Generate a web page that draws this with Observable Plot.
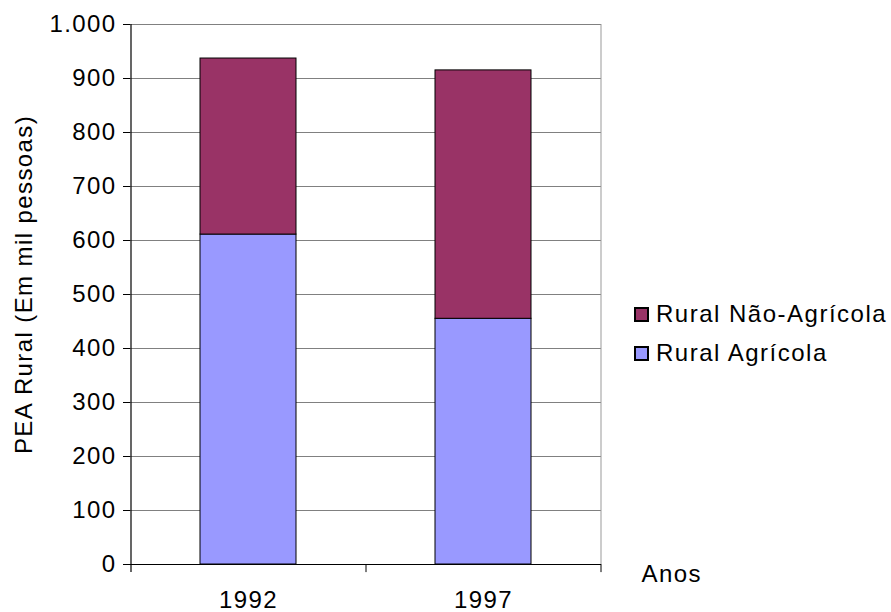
<!DOCTYPE html>
<html>
<head>
<meta charset="utf-8">
<script src="https://cdn.jsdelivr.net/npm/d3@7"></script>
<script src="https://cdn.jsdelivr.net/npm/@observablehq/plot@0.6"></script>
<style>
  html, body { margin: 0; padding: 0; background: #fff; }
  #wrap { position: relative; width: 891px; height: 612px; font-family: "Liberation Sans", Arial, sans-serif; }
  .lg { position: absolute; left: 634px; font-size: 24px; letter-spacing: 1.5px; color: #000; display: flex; align-items: center; height: 30px; white-space: nowrap; }
  .sw { width: 11px; height: 11px; border: 2px solid #000; margin-right: 7px; }
</style>
</head>
<body>
<div id="wrap"></div>
<script>
const years = ["1992", "1997"];
const agricola = [611, 455];
const total = [937, 915];
const naoAgricola = total.map((t, i) => t - agricola[i]);
const series = ["Rural Agrícola", "Rural Não-Agrícola"];
const colors = ["#9999FF", "#993366"];
const yTicks = [0, 100, 200, 300, 400, 500, 600, 700, 800, 900, 1000];

const data = [];
years.forEach((y, i) => {
  data.push({year: y, serie: series[0], value: agricola[i]});
  data.push({year: y, serie: series[1], value: naoAgricola[i]});
});

const fmt = d3.formatLocale({decimal: ",", thousands: ".", grouping: [3], currency: ["", ""]}).format(",");

const chart = Plot.plot({
  width: 891,
  height: 612,
  marginLeft: 130,
  marginRight: 290,
  marginTop: 24,
  marginBottom: 48,
  style: {fontFamily: "Liberation Sans, Arial, sans-serif", fontSize: "24px", color: "#000", background: "#fff", letterSpacing: "1.4px", overflow: "visible"},
  x: {domain: years, paddingInner: 0.59, paddingOuter: 0.295, axis: null},
  y: {domain: [0, 1000], axis: null},
  color: {domain: series, range: colors},
  marks: [
    Plot.gridY(yTicks, {stroke: "#808080", strokeOpacity: 1, strokeWidth: 1.2}),
    Plot.ruleX([years[1]], {x: d => d, dx: 117.5, y1: 0, y2: 1000, stroke: "#999", strokeWidth: 1}),
    Plot.barY(data, {x: "year", y: "value", fill: "serie", stroke: "#000", strokeWidth: 1}),
    Plot.axisY(yTicks, {tickSize: 7, tickPadding: 7, tickFormat: fmt, fontSize: 24, label: null, stroke: "#000"}),
    Plot.ruleY([0], {stroke: "#000", strokeWidth: 1.2}),
    Plot.axisX({tickSize: 0, tickPadding: 26, fontSize: 24, label: null}),
    Plot.text(["PEA Rural (Em mil pessoas)"], {frameAnchor: "left", dx: -99, dy: -10, rotate: -90, lineAnchor: "bottom", textAnchor: "middle", fontSize: 24, letterSpacing: "0.6px"}),
    Plot.ruleX([years[0]], {x: d => d, dx: -117.5, y1: 1000, y2: -15, stroke: "#000", strokeWidth: 1.2}),
    Plot.ruleX([years[1]], {x: d => d, dx: -117.5, y1: 0, y2: -15, stroke: "#000", strokeWidth: 1}),
    Plot.ruleX([years[1]], {x: d => d, dx: 117.5, y1: 0, y2: -15, stroke: "#000", strokeWidth: 1}),
    Plot.text(["Anos"], {frameAnchor: "bottom-right", dx: 40, dy: 10, textAnchor: "start", lineAnchor: "middle", fontSize: 24, letterSpacing: "2px"})
  ]
});

const wrap = document.getElementById("wrap");
wrap.appendChild(chart);

const rowCenters = [314, 353];
[1, 0].forEach((i, k) => {
  const row = document.createElement("div");
  row.className = "lg";
  row.style.top = (rowCenters[k] - 15) + "px";
  const sw = document.createElement("div");
  sw.className = "sw";
  sw.style.background = colors[i];
  const label = document.createElement("span");
  label.textContent = series[i];
  row.appendChild(sw);
  row.appendChild(label);
  wrap.appendChild(row);
});
</script>
</body>
</html>
